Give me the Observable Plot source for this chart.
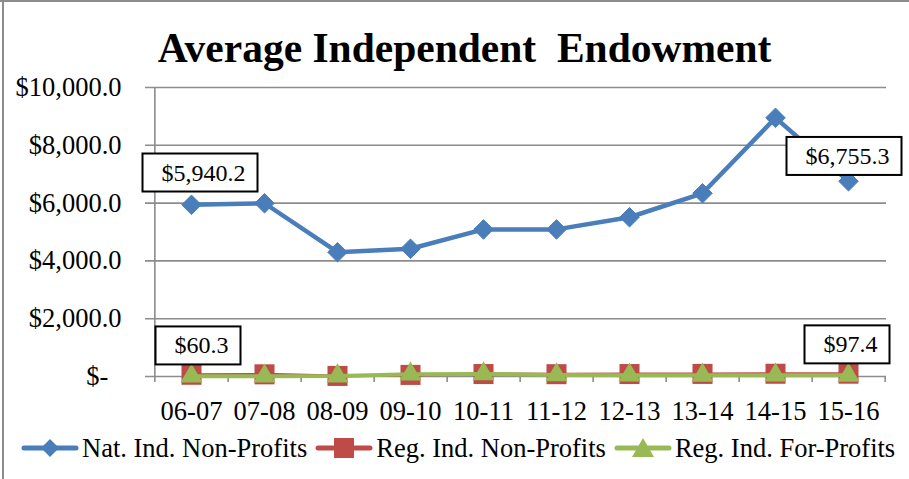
<!DOCTYPE html>
<html>
<head>
<meta charset="utf-8">
<script src="https://cdn.jsdelivr.net/npm/d3@7"></script>
<script src="https://cdn.jsdelivr.net/npm/@observablehq/plot@0.6"></script>
<style>
  html, body { margin: 0; padding: 0; background: #fff; }
  #chart { position: relative; width: 909px; height: 479px; overflow: hidden; background: #fff;
           font-family: "Liberation Serif", "Times New Roman", serif; color: #000; }
  #bt { position: absolute; left: 0; top: 0; width: 909px; height: 2px; background: #8c8c8c; }
  #bl { position: absolute; left: 2px; top: 0; width: 2px; height: 479px; background: #8c8c8c; }
  #title { position: absolute; left: 10px; top: 28px; width: 909px; text-align: center;
           font-weight: bold; font-size: 41.5px; line-height: 41.5px; white-space: pre; }
  #plot { position: absolute; left: 0; top: 70px; }
  #legend { position: absolute; left: 21px; top: 433px; height: 30px; display: flex; align-items: center;
            font-size: 26.5px; line-height: 30px; white-space: pre; }
  .item { display: flex; align-items: center; margin-right: 8px; }
  .item svg { display: block; margin-right: 3px; }
</style>
</head>
<body>
<div id="chart">
  <div id="bt"></div><div id="bl"></div>
  <div id="title">Average Independent  Endowment</div>
  <div id="plot"></div>
  <div id="legend"></div>
</div>
<script>
const categories = ["06-07","07-08","08-09","09-10","10-11","11-12","12-13","13-14","14-15","15-16"];
const seriesNames = ["Nat. Ind. Non-Profits","Reg. Ind. Non-Profits","Reg. Ind. For-Profits"];
const natNonProfits = [5940.2, 5995, 4300, 4420, 5090, 5090, 5510, 6340, 8950, 6755.3];
const regNonProfits = [60.3, 75, 20, 55, 85, 80, 85, 90, 95, 97.4];
const regForProfits = [10, 10, 15, 80, 90, 55, 45, 40, 45, 40];
const yTicks = [0, 2000, 4000, 6000, 8000, 10000];
const colors = ["#4a7ebb", "#be4b48", "#98b954"];

const W = 909, H = 360, mL = 153, mR = 23, mT = 17, mB = 54;
const step = (W - mL - mR) / categories.length;
const plotH = H - mT - mB;

const rows = (vals) => categories.map((c, i) => ({cat: c, v: vals[i]}));
const blue = rows(natNonProfits), red = rows(regNonProfits), green = rows(regForProfits);
const money = d3.format(",.1f");
const fmtLabel = v => "$" + money(v);
const fmtTick = v => v === 0 ? "$-  " : "$" + money(v);

const grid = "#8c8c8c";
const label = (row, dx, dy) => Plot.text([row], {x: "cat", y: "v", text: d => fmtLabel(d.v),
  dx, dy, fontSize: 24, fill: "#000"});

const chart = Plot.plot({
  width: W, height: H,
  marginLeft: mL, marginRight: mR, marginTop: mT, marginBottom: mB,
  style: {fontFamily: "'Liberation Serif', 'Times New Roman', serif", fontSize: "26.5px", background: "transparent", overflow: "visible"},
  x: {type: "point", domain: categories, padding: 0.5, tickSize: 0, tickPadding: 25, label: null},
  y: {domain: [0, 10000], ticks: yTicks, tickFormat: fmtTick, tickSize: 0, tickPadding: 32, label: null},
  marks: [
    Plot.ruleY(yTicks, {stroke: grid, strokeWidth: 1.6, insetLeft: -8}),
    Plot.ruleX([categories[0]], {dx: -step / 2, stroke: grid, strokeWidth: 1.6, insetBottom: -6}),
    Plot.ruleX(categories, {dx: step / 2, stroke: grid, strokeWidth: 1.6, insetTop: plotH, insetBottom: -6}),
    Plot.line(blue, {x: "cat", y: "v", stroke: colors[0], strokeWidth: 4.5}),
    Plot.dot(blue, {x: "cat", y: "v", symbol: "diamond2", r: 8.8, fill: colors[0], stroke: colors[0], strokeWidth: 1}),
    Plot.line(red, {x: "cat", y: "v", stroke: colors[1], strokeWidth: 3}),
    Plot.dot(red, {x: "cat", y: "v", symbol: "square", r: 11.3, fill: colors[1], stroke: "none"}),
    Plot.line(green, {x: "cat", y: "v", stroke: colors[2], strokeWidth: 4}),
    Plot.dot(green, {x: "cat", y: "v", symbol: "triangle", r: 8.2, fill: colors[2], stroke: "none"}),
    label(blue[0], 12, -32),
    label(blue[blue.length - 1], -1, -25),
    label(red[0], 10, -29),
    label(red[red.length - 1], 2, -29)
  ]
});
document.getElementById("plot").appendChild(chart);

// white boxes with black borders behind the data labels (the text marks)
chart.querySelectorAll('g[aria-label="text"] text').forEach(t => {
  const bb = t.getBBox();
  const r = document.createElementNS("http://www.w3.org/2000/svg", "rect");
  r.setAttribute("x", bb.x - 19);
  r.setAttribute("y", bb.y - 6);
  r.setAttribute("width", bb.width + 31);
  r.setAttribute("height", bb.height + 12);
  r.setAttribute("fill", "#fff");
  r.setAttribute("stroke", "#000");
  r.setAttribute("stroke-width", 2);
  const tr = t.getAttribute("transform");
  if (tr) r.setAttribute("transform", tr);
  t.parentNode.insertBefore(r, t);
});

// legend
const symbols = [
  c => `<polygon points="29,1 38,10 29,19 20,10" fill="${c}"/>`,
  c => `<rect x="19" y="0" width="20" height="20" fill="${c}"/>`,
  c => `<polygon points="29,0 40,19 18,19" fill="${c}"/>`
];
const legend = document.getElementById("legend");
seriesNames.forEach((name, i) => {
  const it = document.createElement("div");
  it.className = "item";
  it.innerHTML = `<svg width="58" height="20" viewBox="0 0 58 20"><line x1="3" y1="10" x2="55" y2="10" stroke="${colors[i]}" stroke-width="5" stroke-linecap="round"/>${symbols[i](colors[i])}</svg><span>${name}</span>`;
  legend.appendChild(it);
});
</script>
</body>
</html>
